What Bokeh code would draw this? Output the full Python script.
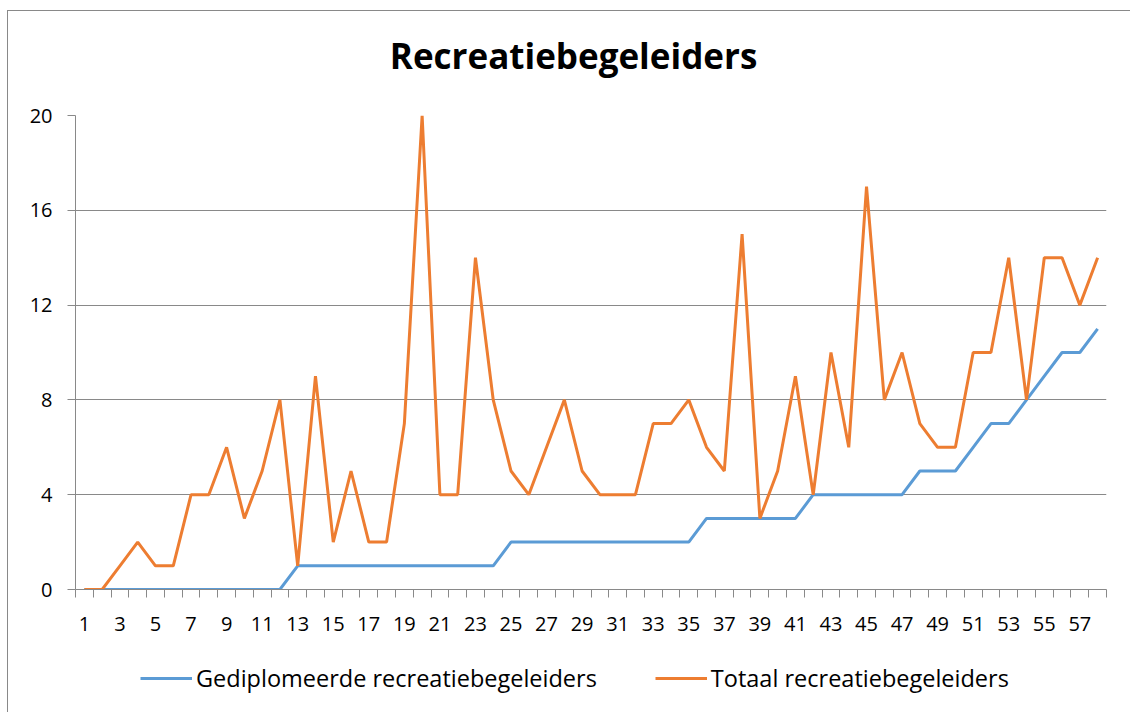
from bokeh.plotting import figure
from bokeh.layouts import column
from bokeh.models import Range1d, FixedTicker, Legend, LegendItem, Label
from bokeh.embed import file_html
from bokeh.resources import INLINE

categories = list(range(1, 59))
tick_labels = [1, 3, 5, 7, 9, 11, 13, 15, 17, 19, 21, 23, 25, 27, 29, 31, 33, 35, 37, 39,
               41, 43, 45, 47, 49, 51, 53, 55, 57]
y_ticks = [0, 4, 8, 12, 16, 20]

gediplomeerd = [0, 0, 0, 0, 0, 0, 0, 0, 0, 0, 0, 0,
                1, 1, 1, 1, 1, 1, 1, 1, 1, 1, 1, 1,
                2, 2, 2, 2, 2, 2, 2, 2, 2, 2, 2,
                3, 3, 3, 3, 3, 3,
                4, 4, 4, 4, 4, 4,
                5, 5, 5, 6, 7, 7, 8, 9, 10, 10, 11]
totaal = [0, 0, 1, 2, 1, 1, 4, 4, 6, 3, 5, 8, 1, 9, 2, 5, 2, 2, 7, 20,
          4, 4, 14, 8, 5, 4, 6, 8, 5, 4, 4, 4, 7, 7, 8, 6, 5, 15, 3, 5,
          9, 4, 10, 6, 17, 8, 10, 7, 6, 6, 10, 10, 14, 8, 14, 14, 12, 14]

chart_title = "Recreatiebegeleiders"
series_names = ["Gediplomeerde recreatiebegeleiders", "Totaal recreatiebegeleiders"]
series_colors = ["#5B9BD5", "#ED7D31"]

FONT = "Open Sans"
GRID = "#898989"
W = 1122

# title strip
p0 = figure(width=W, height=85, output_backend="svg", toolbar_location=None,
            x_range=Range1d(0, W), y_range=Range1d(0, 85),
            x_axis_type=None, y_axis_type=None, min_border=0)
p0.outline_line_color = None
p0.border_fill_color = "white"
p0.add_layout(Label(x=542, y=41, text=chart_title, text_align="center",
                    text_baseline="alphabetic", text_font=FONT, text_font_size="35px",
                    text_font_style="bold", text_color="#000000"))

# main chart
p = figure(width=W, height=544, output_backend="svg", toolbar_location=None,
           x_range=Range1d(0.5, 58.5), y_range=Range1d(0, 20),
           min_border_left=67, min_border_right=24, min_border_top=19, min_border_bottom=51)
p.outline_line_color = None
p.background_fill_color = "white"
p.border_fill_color = "white"

r1 = p.line(categories, gediplomeerd, line_color=series_colors[0], line_width=3)
r2 = p.line(categories, totaal, line_color=series_colors[1], line_width=3)

xa = p.xaxis[0]
xa.ticker = FixedTicker(ticks=tick_labels, minor_ticks=[c - 0.5 for c in categories] + [58.5])
xa.major_tick_line_color = None
xa.major_tick_out = 0
xa.major_tick_in = 0
xa.minor_tick_out = 8
xa.minor_tick_in = 0
xa.minor_tick_line_color = GRID
xa.axis_line_color = GRID
xa.major_label_text_font = FONT
xa.major_label_text_font_size = "20px"
xa.major_label_text_color = "#000000"
xa.major_label_standoff = 19

ya = p.yaxis[0]
ya.ticker = FixedTicker(ticks=y_ticks)
ya.major_tick_out = 8
ya.major_tick_in = 0
ya.minor_tick_line_color = None
ya.major_tick_line_color = GRID
ya.axis_line_color = GRID
ya.major_label_text_font = FONT
ya.major_label_text_font_size = "20px"
ya.major_label_text_color = "#000000"
ya.major_label_standoff = 15

p.xgrid.grid_line_color = None
p.ygrid.ticker = FixedTicker(ticks=y_ticks)
p.ygrid.grid_line_color = GRID
p.ygrid.grid_line_width = 1

# legend strip below the chart (series drawn off-screen, only their legend shows)
p2 = figure(width=W, height=72, output_backend="svg", toolbar_location=None,
            x_range=Range1d(100, 101), y_range=Range1d(100, 101),
            x_axis_type=None, y_axis_type=None, min_border=0)
p2.outline_line_color = None
p2.background_fill_color = "white"
p2.border_fill_color = "white"
l1 = p2.line(categories, gediplomeerd, line_color=series_colors[0], line_width=3)
l2 = p2.line(categories, totaal, line_color=series_colors[1], line_width=3)

legend = Legend(items=[LegendItem(label=series_names[0], renderers=[l1]),
                       LegendItem(label=series_names[1], renderers=[l2])],
                orientation="horizontal", location=(65, 18),
                label_text_font=FONT, label_text_font_size="23.5px", label_text_color="#000000",
                glyph_width=52, label_standoff=4, spacing=58, padding=0, margin=0,
                border_line_color=None, background_fill_alpha=0)
p2.add_layout(legend)

layout = column(p0, p, p2, styles={"margin-left": "7px", "margin-top": "10px",
                                   "border-left": "1px solid #898989",
                                   "border-top": "1px solid #898989"})

open("out.html", "w").write(file_html(layout, INLINE))
